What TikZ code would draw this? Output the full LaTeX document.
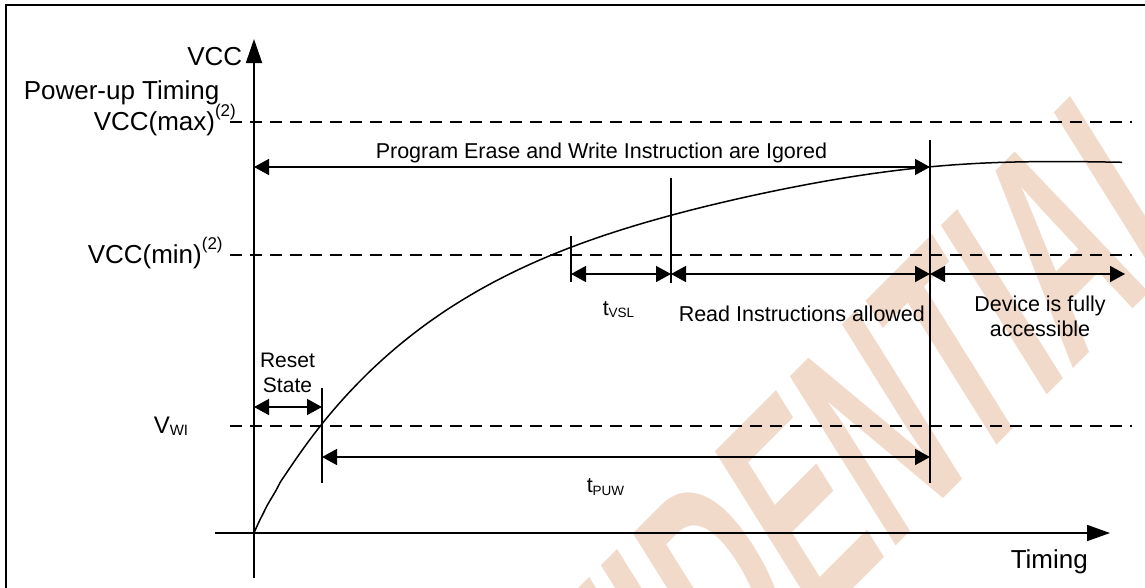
\documentclass[tikz,border=0pt]{standalone}
\usepackage{fontspec}
\setmainfont{Liberation Sans}
\usetikzlibrary{arrows.meta}
\definecolor{wm}{RGB}{242,218,202}
\newcommand{\fsz}[1]{\fontsize{#1}{#1}\selectfont}
\newcommand{\sbs}[2]{\raisebox{-2.5pt}{\fsz{#1}#2}}
\newcommand{\sps}[1]{\raisebox{13.5pt}{\fsz{17}#1}}
\begin{document}
\begin{tikzpicture}[x=1pt,y=-1pt,line width=1.5pt,
  big/.style={inner sep=0pt,font=\fsz{26}},
  small/.style={inner sep=0pt,font=\fsz{21.5}},
  twoline/.style={inner sep=0pt,align=center,font=\fontsize{21.5}{25}\selectfont},
  dimarrow/.style={{Triangle[length=15pt,width=16pt]}-{Triangle[length=15pt,width=16pt]}},
  axisarrow/.style={line width=1.8pt,-{Triangle[length=23pt,width=16pt]}},
  dashline/.style={dash pattern=on 12pt off 8pt},
  frameline/.style={line width=2pt}]
\useasboundingbox (0,0) rectangle (1145,587);
% watermark
\begin{scope}
\clip (6,5) rectangle (1145,587);
\begin{scope}[shift={(378.6,1063.4)},cm={1.1314,1.1314,-1.537,2.459,(0,0)}]
\node[transform shape,anchor=base west,inner sep=0pt,text=wm,font=\bfseries\fsz{100}] (wmk) at (0,0) {CONFIDENTIAL};
\end{scope}
\end{scope}
% frame
\coordinate (fBL) at (6,590);
\coordinate (fTL) at (6,5);
\coordinate (fTR) at (1148,5);
\draw[frameline] (fBL) -- (fTL) -- (fTR);
% axes
\coordinate (O) at (254,533);
\coordinate (Ytop) at (254,39);
\coordinate (Ybot) at (254,578);
\coordinate (Xl) at (215,533);
\coordinate (Xr) at (1110,533);
\draw[line width=1.8pt,-{Triangle[length=24pt,width=16pt]}] (Ybot) -- (Ytop);
\draw[axisarrow] (Xl) -- (Xr);
% dashed levels
\coordinate (maxL) at (230,122); \coordinate (maxR) at (1132,122);
\coordinate (minL) at (230,255); \coordinate (minR) at (1132,255);
\coordinate (wiL) at (230,426);  \coordinate (wiR) at (1132,426);
\draw[dashline] (maxL) -- (maxR);
\draw[dashline] (minL) -- (minR);
\draw[dashline] (wiL) -- (wiR);
% ticks
\coordinate (t1a) at (322,388); \coordinate (t1b) at (322,483);
\coordinate (t2a) at (571,236); \coordinate (t2b) at (571,282);
\coordinate (t3a) at (671,178); \coordinate (t3b) at (671,283);
\coordinate (t4a) at (930,140); \coordinate (t4b) at (930,483);
\draw (t1a) -- (t1b);
\draw (t2a) -- (t2b);
\draw (t3a) -- (t3b);
\draw (t4a) -- (t4b);
% curve
\draw (O) -- plot[domain=0.5:868,samples=200,smooth] ({254+\x},{533-372*(1-exp(-pow(\x/212,0.93)))-14*exp(-((\x-700)/220)*((\x-700)/220))});
% dimension arrows
\coordinate (pA) at (254,167); \coordinate (pB) at (930,167);
\coordinate (rA) at (254,407); \coordinate (rB) at (322,407);
\coordinate (uA) at (322,457); \coordinate (uB) at (930,457);
\coordinate (vA) at (571,274); \coordinate (vB) at (671,274);
\coordinate (vC) at (930,274); \coordinate (vD) at (1125,274);
\draw[dimarrow] (pA) -- (pB);
\draw[dimarrow] (rA) -- (rB);
\draw[dimarrow] (uA) -- (uB);
\draw[dimarrow] (vA) -- (vB);
\draw[dimarrow] (vB) -- (vC);
\draw[dimarrow] (vC) -- (vD);
% labels
\node[big,anchor=base east] (lvcc) at (243,65) {VCC};
\node[big,anchor=base west] (lput) at (23,99) {Power-up Timing};
\node[big,anchor=base west] (lmax) at (93,130) {VCC(max)\sps{(2)}};
\node[big,anchor=base west] (lmin) at (87,263) {VCC(min)\sps{(2)}};
\node[inner sep=0pt,font=\fsz{24},anchor=base west] (lwi) at (153,433) {V\sbs{15}{WI}};
\node[big,anchor=base west] (ltim) at (1010,568) {Timing};
\node[small,anchor=base west] (lprog) at (375,158) {Program Erase and Write Instruction are Igored};
\node[twoline,font=\fontsize{21}{25}\selectfont] (lreset) at (287.5,373) {Reset\\State};
\node[small,anchor=base west] (lvsl) at (602,315) {t\sbs{13.5}{VSL}};
\node[small,anchor=base west] (lread) at (678,321) {Read Instructions allowed};
\node[twoline] (ldev) at (1040,316.5) {Device is fully\\accessible};
\node[small,anchor=base west] (lpuw) at (586,492.5) {t\sbs{13.5}{PUW}};
\end{tikzpicture}
\end{document}
